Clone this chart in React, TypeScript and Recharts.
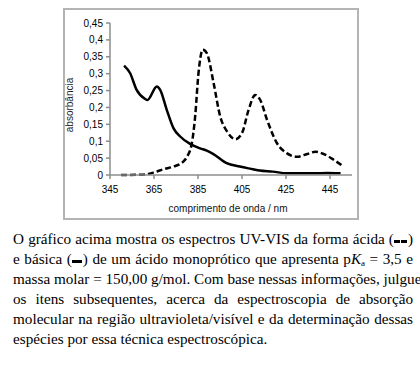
import { LineChart, Line, XAxis, YAxis } from "recharts";

// forma ácida (tracejada)
const ACID_NM = [350, 360, 364.7, 369.3, 373.9, 378.4, 380, 382.2, 383.7, 385.2, 387.2, 389, 392.1, 395.1, 398.2, 402, 405, 408, 411, 413.3, 416.4, 420.9, 425.5, 430, 434.6, 438.4, 442.2, 446.7, 450.5];
const ACID_ABS = [0, 0.001, 0.007, 0.017, 0.025, 0.04, 0.054, 0.094, 0.173, 0.3, 0.371, 0.361, 0.272, 0.173, 0.129, 0.106, 0.124, 0.193, 0.237, 0.222, 0.163, 0.094, 0.064, 0.054, 0.062, 0.069, 0.062, 0.045, 0.028];

// forma básica (contínua)
const BASE_NM = [351.4, 354.1, 357.1, 361, 362, 366.3, 367.8, 370.8, 373.9, 376.9, 381.4, 386, 389, 392, 398, 404, 410, 413, 419, 425.5, 437.6, 443.7, 449.8];
const BASE_ABS = [0.324, 0.302, 0.252, 0.225, 0.222, 0.262, 0.252, 0.193, 0.138, 0.114, 0.092, 0.079, 0.072, 0.062, 0.035, 0.025, 0.017, 0.013, 0.01, 0.005, 0.005, 0.006, 0.005];

const X_TICKS = [345, 365, 385, 405, 425, 445];
const Y_TICKS = [0, 0.05, 0.1, 0.15, 0.2, 0.25, 0.3, 0.35, 0.4, 0.45];

const acid = ACID_NM.map((nm, i) => ({ nm, abs: ACID_ABS[i] }));
const base = BASE_NM.map((nm, i) => ({ nm, abs: BASE_ABS[i] }));

const AXIS = "#8c8c8c";
const FONT = "'Liberation Sans', Arial, sans-serif";
const SERIF = "'Liberation Serif', 'Times New Roman', serif";

const fmt = (v: number) => String(Number(v.toFixed(2))).replace(".", ",");

const block = (w: number) => (
  <span
    style={{
      display: "inline-block",
      width: w,
      height: 3,
      background: "#000",
      marginBottom: 1,
      marginRight: 1,
    }}
  />
);

const lineStyle = { textAlign: "justify" as const, textAlignLast: "justify" as const, whiteSpace: "nowrap" as const };

export default function App() {
  return (
    <div style={{ position: "absolute", left: 0, top: 0, width: 420, height: 391, background: "#fff" }}>
      <div
        style={{
          position: "absolute",
          left: 63,
          top: 8,
          width: 296,
          height: 212,
          border: "2px solid #b4b4b4",
          boxSizing: "border-box",
        }}
      >
        <LineChart width={292} height={208} margin={{ top: 13, right: 5, left: 0, bottom: 0 }}>
          <XAxis
            dataKey="nm"
            type="number"
            domain={[345, 455]}
            ticks={X_TICKS}
            allowDuplicatedCategory={false}
            height={43}
            stroke={AXIS}
            strokeWidth={1.5}
            tickSize={4}
            tickMargin={7}
            tick={{ fill: "#000", fontSize: 10, fontFamily: FONT }}
            label={{
              content: () => (
                <text x={163} y={202} textAnchor="middle" fontSize={10} fontFamily={FONT} fill="#111">
                  comprimento de onda / nm
                </text>
              ),
            }}
          />
          <YAxis
            type="number"
            domain={[0, 0.45]}
            ticks={Y_TICKS}
            width={45}
            stroke={AXIS}
            strokeWidth={1.5}
            tickSize={4}
            tickMargin={3}
            tickFormatter={fmt}
            tick={{ fill: "#000", fontSize: 10, fontFamily: FONT }}
            label={{
              content: () => (
                <text
                  x={8}
                  y={95}
                  transform="rotate(-90 8 95)"
                  textAnchor="middle"
                  fontSize={10}
                  fontFamily={FONT}
                  fill="#222"
                >
                  absorbância
                </text>
              ),
            }}
          />
          <Line
            data={acid}
            dataKey="abs"
            type="monotone"
            stroke="#000"
            strokeWidth={2.5}
            strokeDasharray="6 3"
            dot={false}
            isAnimationActive={false}
          />
          <Line
            data={base}
            dataKey="abs"
            type="monotone"
            stroke="#000"
            strokeWidth={2.5}
            dot={false}
            isAnimationActive={false}
          />
        </LineChart>
      </div>
      <div
        style={{
          position: "absolute",
          left: 13,
          top: 229,
          width: 400,
          fontFamily: SERIF,
          fontSize: 15.2,
          lineHeight: "20px",
          color: "#000",
        }}
      >
        <div style={lineStyle}>
          O gráfico acima mostra os espectros UV-VIS da forma ácida ({block(6)}
          {block(6)})
        </div>
        <div style={lineStyle}>
          e básica ({block(10)}) de um ácido monoprótico que apresenta p<i>K</i>
          <sub style={{ fontSize: 9, lineHeight: 0, verticalAlign: -2 }}>a</sub> = 3,5 e
        </div>
        <div style={lineStyle}>massa molar = 150,00 g/mol. Com base nessas informações, julgue</div>
        <div style={lineStyle}>os itens subsequentes, acerca da espectroscopia de absorção</div>
        <div style={lineStyle}>molecular na região ultravioleta/visível e da determinação dessas</div>
        <div>espécies por essa técnica espectroscópica.</div>
      </div>
    </div>
  );
}
